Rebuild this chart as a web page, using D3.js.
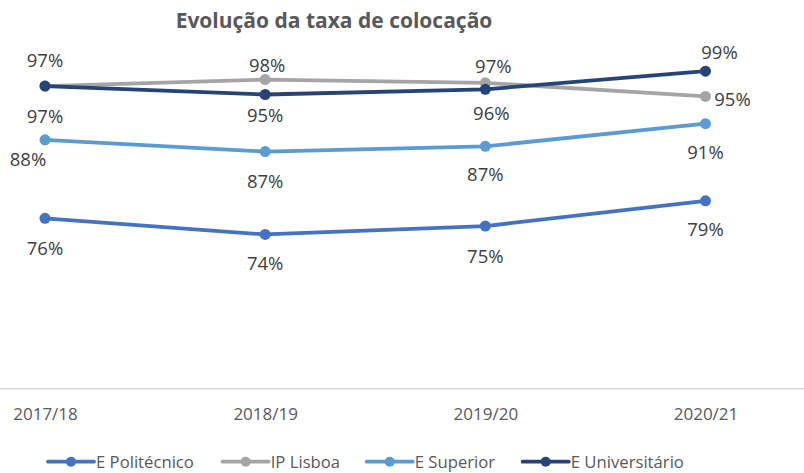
<!DOCTYPE html>
<html>
<head>
<meta charset="utf-8">
<script src="https://cdn.jsdelivr.net/npm/d3@7"></script>
<style>
  html, body { margin: 0; padding: 0; background: #fff; }
  svg { display: block; }
  text { font-family: "Open Sans", "Noto Sans", sans-serif; }
</style>
</head>
<body>
<svg id="chart" width="804" height="473"></svg>
<script>
// ---- data ----
const title = "Evolução da taxa de colocação";
const categories = ["2017/18", "2018/19", "2019/20", "2020/21"];
const seriesNames = ["E Politécnico", "IP Lisboa", "E Superior", "E Universitário"];
const ePolitecnico = [0.763, 0.738, 0.751, 0.790];
const ipLisboa = [0.967, 0.977, 0.972, 0.951];
const eSuperior = [0.884, 0.866, 0.874, 0.909];
const eUniversitario = [0.967, 0.954, 0.962, 0.990];
const yDomain = [0.5, 1.0];

// ---- styling / layout (not data) ----
const colors = ["#4472C4", "#A5A5A5", "#5B9BD5", "#264478"];
// label offsets [dx, dy] relative to each point (text centre)
const labelOffsets = [
  [[0, 30], [0, 29], [0, 30], [0, 29]],
  [[0, 30], [2, -14], [8, -16], [27, 3]],
  [[-17, 20], [0, 30], [0, 28], [0, 29]],
  [[0, -26], [0, 21], [6, 24], [14, -19]]
];

const svg = d3.select("#chart");
const seriesValues = [ePolitecnico, ipLisboa, eSuperior, eUniversitario];
const series = seriesNames.map((name, i) => ({
  name, color: colors[i], values: seriesValues[i], offsets: labelOffsets[i]
}));

const x = d3.scalePoint().domain(categories).range([45, 705.5]);
const y = d3.scaleLinear().domain(yDomain).range([388.7, 64.7]);

// title
svg.append("text")
  .attr("x", 334).attr("y", 28)
  .attr("text-anchor", "middle")
  .attr("font-size", 21).attr("font-weight", 700)
  .attr("fill", "#595959")
  .text(title);

// x axis
const xAxis = d3.axisBottom(x).tickSize(0).tickPadding(0);
const gx = svg.append("g").attr("transform", "translate(0,388.7)").call(xAxis);
gx.select(".domain").remove();
gx.selectAll(".tick text")
  .attr("y", 31)
  .attr("dy", 0)
  .attr("font-size", 17)
  .attr("font-family", "'Open Sans', sans-serif")
  .attr("fill", "#595959");
svg.append("line")
  .attr("x1", 0).attr("x2", 804)
  .attr("y1", 388.7).attr("y2", 388.7)
  .attr("stroke", "#D9D9D9").attr("stroke-width", 1.5);

const line = d3.line()
  .x((d, i) => x(categories[i]))
  .y(d => y(d));

const fmt = d3.format(".0%");

series.forEach(s => {
  const g = svg.append("g");
  g.append("path")
    .datum(s.values)
    .attr("d", line)
    .attr("fill", "none")
    .attr("stroke", s.color)
    .attr("stroke-width", 3.8)
    .attr("stroke-linejoin", "round")
    .attr("stroke-linecap", "round");
  g.selectAll("circle")
    .data(s.values)
    .join("circle")
    .attr("cx", (d, i) => x(categories[i]))
    .attr("cy", d => y(d))
    .attr("r", 5.5)
    .attr("fill", s.color);
});

// labels on top
series.forEach(s => {
  svg.append("g").selectAll("text")
    .data(s.values)
    .join("text")
    .attr("x", (d, i) => x(categories[i]) + s.offsets[i][0])
    .attr("y", (d, i) => y(d) + s.offsets[i][1])
    .attr("dy", "0.35em")
    .attr("text-anchor", "middle")
    .attr("font-size", 18.5)
    .attr("fill", "#404040")
    .text(d => fmt(d));
});

// legend
const legendX = [48, 222.7, 366.7, 522.7];
const legendY = 461.7;
const lg = svg.append("g");
series.forEach((s, i) => {
  const g = lg.append("g").attr("transform", `translate(${legendX[i]},${legendY})`);
  g.append("line").attr("x1", 0).attr("x2", 46).attr("y1", 0).attr("y2", 0)
    .attr("stroke", s.color).attr("stroke-width", 3.8).attr("stroke-linecap", "round");
  g.append("circle").attr("cx", 23).attr("cy", 0).attr("r", 5).attr("fill", s.color);
  g.append("text").attr("x", 48).attr("y", 0).attr("dy", "0.35em")
    .attr("font-size", 16.7).attr("fill", "#595959").text(s.name);
});
</script>
</body>
</html>
